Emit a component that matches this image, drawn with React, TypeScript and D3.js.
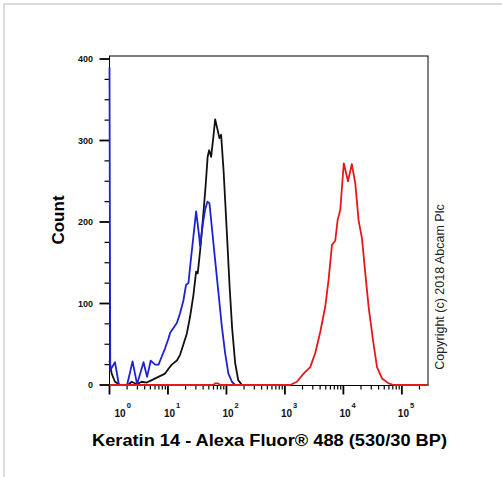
import React from "react";
import * as d3 from "d3";

// ---- data ----
const blueIntensity = [1.0, 1.03, 1.24, 1.45, 2.0, 2.48, 2.96, 3.82, 4.39, 5.08, 6.01, 6.9, 7.83, 8.92, 10.2, 10.9, 14.2, 16.1, 18.4, 20.4, 22.4, 23.9, 27.2, 30.3, 33.7, 35.5, 39.5, 43.2, 47.3, 51.2, 56.2, 64.1, 73.0, 83.4, 95.0, 108, 124, 141];
const blueCount = [390, 18, 28, 0, 0, 29, 1, 28, 10, 30, 25, 25, 35, 45, 57, 64, 76, 88, 104, 123, 125, 145, 182, 213, 186, 170, 198, 215, 225, 223, 194, 153, 113, 72, 39, 14, 4, 0];

const blackIntensity = [1.0, 1.09, 1.24, 1.51, 2.07, 2.4, 2.92, 3.56, 4.34, 5.28, 6.85, 8.92, 10.2, 11.6, 14.2, 16.1, 18.4, 21.0, 23.9, 27.2, 30.3, 32.3, 35.5, 40.4, 44.1, 47.7, 50.6, 54.7, 59.9, 64.1, 70.1, 75.9, 81.1, 89.5, 102, 113, 125, 141, 159, 184];
const blackCount = [30, 14, 4, 0, 0, 4, 1, 4, 3, 6, 10, 14, 20, 25, 30, 37, 50, 63, 84, 110, 139, 137, 165, 211, 245, 280, 288, 280, 305, 326, 314, 303, 307, 262, 185, 122, 70, 27, 6, 0];

const redIntensity = [1.0, 59.2, 65.3, 72.1, 78.0, 1233, 1605, 2081, 2710, 3300, 4020, 4894, 5580, 6380, 7260, 7960, 8850, 9460, 10160, 11990, 13930, 16000, 18200, 20800, 23700, 27000, 32100, 37600, 45800, 59400, 72400, 280000];
const redCount = [0, 0, 2, 2, 0, 0, 4, 14, 22, 39, 65, 96, 129, 172, 177, 202, 215, 243, 272, 250, 271, 247, 202, 180, 137, 96, 55, 22, 8, 2, 0, 0];

const xDecades = [1, 10, 100, 1000, 10000, 100000];
const xExponents = ["0", "1", "2", "3", "4", "5"];
const yTicks = [0, 100, 200, 300, 400];
const yMinorTicks = d3.range(0, 401, 25);

const xTitle = "Keratin 14 - Alexa Fluor\u00AE 488 (530/30 BP)";
const yTitle = "Count";
const copyright = "Copyright (c) 2018 Abcam Plc";

const FONT = "'Liberation Sans', Arial, Helvetica, sans-serif";

export default function App() {
  const W = 502, H = 477;
  const left = 109.5, right = 428, top = 56, bottom = 385.5;
  const xMax = 280000;
  const x = d3.scaleLog().domain([1, xMax]).range([left, right]);
  const y = d3.scaleLinear().domain([0, 400]).range([385, 59]);

  const mkLine = (xs: number[], ys: number[]) =>
    d3.line<number>().x((_, i) => x(xs[i])).y((_, i) => y(ys[i])).curve(d3.curveLinear)(xs.map((_, i) => i)) || "";

  // minor log ticks
  const minorX: number[] = [];
  for (let dec = 1; dec <= 100000; dec *= 10) {
    for (let k = 2; k <= 9; k++) {
      const v = dec * k;
      if (v <= xMax) minorX.push(v);
    }
  }

  return (
    <svg width={W} height={H} style={{ position: "absolute", left: 0, top: 0, background: "#fff" }} fontFamily={FONT}>
      <rect x={0} y={0} width={W} height={H} fill="#fff" />
      {/* outer light border */}
      <line x1={3} y1={4} x2={W} y2={4} stroke="#dcdcdc" strokeWidth={2} />
      <line x1={4} y1={3} x2={4} y2={H} stroke="#dcdcdc" strokeWidth={2} />

      {/* frame */}
      <rect x={left} y={top} width={right - left} height={bottom - top} fill="none" stroke="#000" strokeWidth={1} />

      {/* y ticks */}
      {yMinorTicks.map((t) => (
        <line key={"ym" + t} x1={left - (t % 100 === 0 ? 10 : 5)} x2={left} y1={y(t)} y2={y(t)} stroke="#000" strokeWidth={t % 100 === 0 ? 1.8 : 1.2} />
      ))}
      {yTicks.map((t) => (
        <text key={"yl" + t} x={93} y={y(t)} dy="0.35em" textAnchor="end" fontSize={9} fontWeight="bold" fill="#111">{t}</text>
      ))}

      {/* x ticks */}
      {minorX.map((v) => (
        <line key={"xm" + v} x1={x(v)} x2={x(v)} y1={bottom} y2={bottom + 4} stroke="#000" strokeWidth={1.2} />
      ))}
      {xDecades.map((v) => (
        <line key={"xM" + v} x1={x(v)} x2={x(v)} y1={bottom} y2={bottom + 9} stroke="#000" strokeWidth={1.8} />
      ))}
      {xDecades.map((v, i) => (
        <text key={"xl" + v} x={x(v) - 4 + (i === 0 ? 9 : 0)} y={417} fontSize={10} fontWeight="bold" fill="#111">
          10<tspan dx={1} dy={-9} fontSize={7.5}>{xExponents[i]}</tspan>
        </text>
      ))}

      {/* curves */}
      <path d={mkLine(blackIntensity, blackCount)} fill="none" stroke="#111" strokeWidth={1.8} strokeLinejoin="round" />
      <path d={mkLine(blueIntensity, blueCount)} fill="none" stroke="#1f22d0" strokeWidth={1.8} strokeLinejoin="round" />
      <path d={mkLine(redIntensity, redCount)} fill="none" stroke="#e3191b" strokeWidth={1.8} strokeLinejoin="round" />

      {/* titles */}
      <text transform={`translate(64,220) rotate(-90)`} textAnchor="middle" fontSize={17} fontWeight="bold" fill="#000">{yTitle}</text>
      <text x={269.5} y={446} textAnchor="middle" fontSize={16} fontWeight="bold" fill="#000" textLength={355} lengthAdjust="spacingAndGlyphs">{xTitle}</text>
      <text transform={`translate(444,287) rotate(-90)`} textAnchor="middle" fontSize={12.5} fill="#222">{copyright}</text>
    </svg>
  );
}
